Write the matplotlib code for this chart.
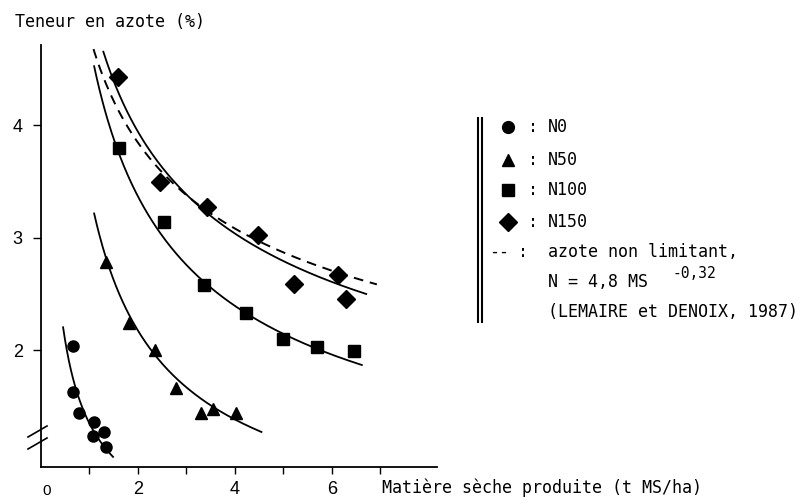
import numpy as np
import matplotlib.pyplot as plt

# points: dry matter (t MS/ha) vs nitrogen content (%)
n0_ms = [0.66, 0.67, 0.79, 1.10, 1.31, 1.08, 1.34]
n0_n = [2.04, 1.63, 1.44, 1.36, 1.27, 1.24, 1.14]
n50_ms = [1.34, 1.82, 2.35, 2.79, 3.30, 3.56, 4.02]
n50_n = [2.78, 2.24, 2.00, 1.66, 1.44, 1.48, 1.44]
n100_ms = [1.61, 2.55, 3.37, 4.23, 5.00, 5.70, 6.46]
n100_n = [3.80, 3.14, 2.58, 2.33, 2.10, 2.03, 1.99]
n150_ms = [1.60, 2.46, 3.42, 4.47, 5.22, 6.12, 6.29]
n150_n = [4.43, 3.49, 3.27, 3.02, 2.59, 2.67, 2.45]

# fitted curves N = a * MS^b  -> (a, b, ms_start, ms_end)
fit_n0 = (1.35, -0.63, 0.46, 1.49)
fit_n50 = (3.42, -0.653, 1.10, 4.55)
fit_n100 = (4.74, -0.493, 1.10, 6.62)
fit_n150 = (5.12, -0.377, 1.29, 6.71)
fit_ref = (4.8, -0.32, 0.99, 6.93)   # LEMAIRE et DENOIX 1987

x_ticks = [1, 2, 3, 4, 5, 6, 7]
x_ticklabels = ['', '2', '', '4', '', '6', '']
y_ticks = [2, 3, 4]
y_ticklabels = ['2', '3', '4']

legend_labels = ['N0', 'N50', 'N100', 'N150']
legend_markers = ['o', '^', 's', 'D']

mono = 'DejaVu Sans Mono'


def curve(fit):
    a, b, x0, x1 = fit
    x = np.linspace(x0, x1, 200)
    return x, a * x ** b


fig = plt.figure(figsize=(8.03, 4.99), dpi=100)
ax = fig.add_axes([0.0508, 0.0641, 0.4934, 0.8457])
ax.set_xlim(0, 8.17)
ax.set_ylim(0.96, 4.711)

for fit in [fit_n0, fit_n50, fit_n100, fit_n150]:
    ax.plot(*curve(fit), color='black', lw=1.3)
ax.plot(*curve(fit_ref), color='black', lw=1.4, dashes=(5, 3.5))

ax.plot(n0_ms, n0_n, 'o', color='black', ms=8)
ax.plot(n50_ms, n50_n, '^', color='black', ms=9)
ax.plot(n100_ms, n100_n, 's', color='black', ms=8.5)
ax.plot(n150_ms, n150_n, 'D', color='black', ms=9)

for s in ['top', 'right']:
    ax.spines[s].set_visible(False)
for s in ['left', 'bottom']:
    ax.spines[s].set_linewidth(1.3)
ax.set_xticks(x_ticks)
ax.set_xticklabels(x_ticklabels, family='Liberation Sans', fontsize=13)
ax.set_yticks(y_ticks)
ax.set_yticklabels(y_ticklabels, family='Liberation Sans', fontsize=13)
ax.tick_params(axis='x', direction='out', length=5, width=1, pad=5)
ax.tick_params(axis='y', direction='out', length=6, width=1, pad=7)

# overlay in pixel coordinates for the annotations
ov = fig.add_axes([0, 0, 1, 1], facecolor='none')
ov.set_xlim(0, 803)
ov.set_ylim(499, 0)
ov.axis('off')

# axis break marks
ov.plot([28, 47], [437, 426], color='black', lw=1.2)
ov.plot([28, 47], [449, 438], color='black', lw=1.2)

ov.text(15, 22, 'Teneur en azote (%)', family=mono, fontsize=12, va='center', ha='left')
ov.text(382, 488, 'Matière sèche produite (t MS/ha)', family=mono, fontsize=12,
        va='center', ha='left')
ov.text(47, 498, '0', family='Liberation Sans', fontsize=11, va='bottom', ha='center')

# legend
ov.plot([478, 478], [118, 322], color='black', lw=1.5)
ov.plot([482, 482], [118, 322], color='black', lw=1.5)
rows = [127, 160, 190, 222]
for y, m, lab in zip(rows, legend_markers, legend_labels):
    size = 9.5 if m == 'D' else 8.5
    ov.plot([508], [y], m, color='black', ms=size)
    ov.text(533, y, ':', family=mono, fontsize=12, va='center', ha='center')
    ov.text(548, y, lab, family=mono, fontsize=12, va='center', ha='left')
ov.text(489, 252, '--', family=mono, fontsize=12, va='center', ha='left')
ov.text(523, 252, ':', family=mono, fontsize=12, va='center', ha='center')
ov.text(548, 252, 'azote non limitant,', family=mono, fontsize=12, va='center', ha='left')
ov.text(548, 282, 'N = 4,8 MS', family=mono, fontsize=12, va='center', ha='left')
ov.text(673, 273, '-0,32', family=mono, fontsize=10.5, va='center', ha='left')
ov.text(548, 312, '(LEMAIRE et DENOIX, 1987)', family=mono, fontsize=12, va='center', ha='left')

fig.savefig('out.png', dpi=100)
